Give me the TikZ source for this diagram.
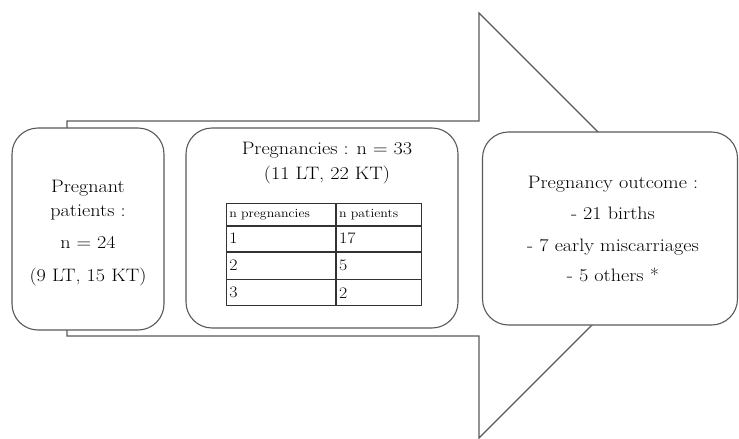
\documentclass[tikz,border=0pt]{standalone}
\usepackage{fontspec}
\setmainfont{Latin Modern Roman}[FakeStretch=1.12]
\begin{document}
\begin{tikzpicture}[x=1pt,y=-1pt,
  outline/.style={draw=black!65, line width=1.1pt},
  roundbox/.style={outline, fill=white, rounded corners=26pt, inner sep=0pt},
  bigtext/.style={font=\fontsize{18}{24}\selectfont, align=center, inner sep=0pt},
  cell/.style={draw=black!80, line width=0.8pt, anchor=north west, inner xsep=3pt, inner ysep=0pt, align=left},
  hcell/.style={cell, font=\fontsize{12.4}{13}\selectfont},
  ncell/.style={cell, font=\fontsize{16}{17}\selectfont}]
\useasboundingbox (0,0) rectangle (739,439);
% big arrow
\coordinate (s1) at (67,121);
\coordinate (s2) at (479,121);
\coordinate (h1) at (479,13);
\coordinate (tip) at (691.5,225.5);
\coordinate (h2) at (479,438);
\coordinate (s3) at (479,336);
\coordinate (s4) at (67,336);
\draw[outline, line join=miter] (s1) -- (s2) -- (h1) -- (tip) -- (h2) -- (s3) -- (s4) -- cycle;
% boxes
\node[roundbox, minimum width=152pt, minimum height=202pt] (left) at (88,229) {};
\node[roundbox, minimum width=272pt, minimum height=200pt] (mid) at (322,228) {};
\node[roundbox, minimum width=255pt, minimum height=193pt] (right) at (610,228.5) {};
% texts (base anchor = baseline of last line)
\node[bigtext, anchor=base] (lt) at (88,281) {Pregnant\\patients :\\[8pt]n = 24\\[9pt](9 LT, 15 KT)};
\node[bigtext, anchor=base] (mt) at (327,179) {Pregnancies : n = 33\\[1pt](11 LT, 22 KT)};
\node[bigtext, anchor=base] (rt) at (613,281) {Pregnancy outcome :\\[7pt]- 21 births\\[8pt]- 7 early miscarriages\\[6pt]- 5 others *};
% table
\node[hcell, text width=103pt, minimum height=22pt] (c11) at (226,203) {n pregnancies};
\node[hcell, text width=79pt, minimum height=22pt] (c12) at (c11.north east) {n patients};
\node[ncell, text width=103pt, minimum height=25pt] (c21) at (c11.south west) {1};
\node[ncell, text width=79pt, minimum height=25pt] (c22) at (c21.north east) {17};
\node[ncell, text width=103pt, minimum height=27pt] (c31) at (c21.south west) {2};
\node[ncell, text width=79pt, minimum height=27pt] (c32) at (c31.north east) {5};
\node[ncell, text width=103pt, minimum height=26pt] (c41) at (c31.south west) {3};
\node[ncell, text width=79pt, minimum height=26pt] (c42) at (c41.north east) {2};
\end{tikzpicture}
\end{document}
